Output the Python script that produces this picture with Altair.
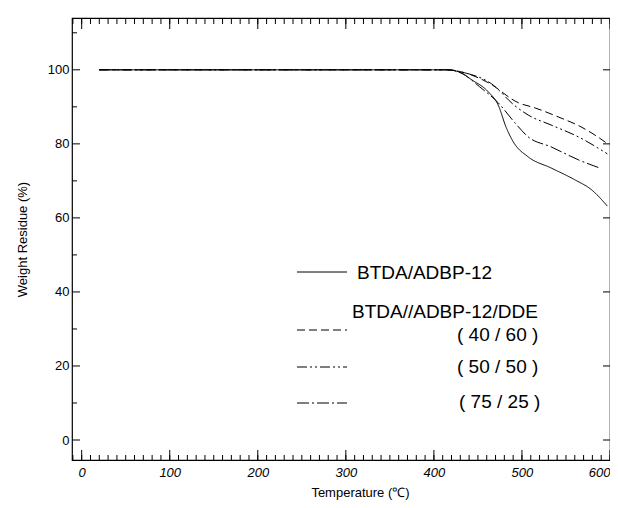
import altair as alt
import pandas as pd

# ---- data ----
series_names = ["BTDA/ADBP-12", "40/60", "50/50", "75/25"]

temp_a = [20, 415, 430, 443, 462, 473, 482, 490, 507, 533, 560, 579, 597]
res_a = [100, 100, 99.3, 97.3, 94.0, 90.5, 84.5, 80.6, 76.5, 73.5, 70.3, 67.6, 63.2]

temp_b = [20, 415, 435, 462, 496, 515, 541, 567, 586, 599]
res_b = [100, 100, 99.2, 96.5, 91.1, 89.7, 87.3, 84.6, 81.9, 79.7]

temp_c = [20, 415, 435, 465, 492, 507, 533, 564, 597]
res_c = [100, 100, 99.2, 96.3, 90.3, 87.8, 85.1, 81.9, 77.3]

temp_d = [20, 415, 432, 452, 473, 492, 507, 533, 564, 588]
res_d = [100, 100, 99.0, 95.4, 91.1, 85.7, 81.9, 79.2, 75.7, 73.5]

x_labels = [0, 100, 200, 300, 400, 500, 600]
y_labels = [0, 20, 40, 60, 80, 100]
x_minor = list(range(-10, 601, 10))
x_major = [0, 100, 200, 300, 400, 500, 600]
y_minor = [10, 30, 50, 70, 90, 110]
y_major = [0, 20, 40, 60, 80, 100]

rows = []
for name, ts, ws in zip(series_names, [temp_a, temp_b, temp_c, temp_d], [res_a, res_b, res_c, res_d]):
    for t, w in zip(ts, ws):
        rows.append({"series": name, "T": t, "W": w})
df = pd.DataFrame(rows)

dashes = [[1, 0], [8, 4], [10, 3, 2, 3, 2, 3], [12, 3, 2, 3]]
dash_scale = alt.Scale(domain=series_names, range=dashes)

FONT = "Liberation Sans"
W, H = 538, 442
xs = alt.Scale(domain=[-11, 600], nice=False, zero=False)
ys = alt.Scale(domain=[-5.4, 114], nice=False, zero=False)

lines = alt.Chart(df).mark_line(color="black", strokeWidth=1, interpolate="monotone", clip=True).encode(
    x=alt.X("T:Q", scale=xs, axis=alt.Axis(
        values=x_labels, domain=False, ticks=False, grid=False, labelPadding=6, labelFlush=True,
        labelFont=FONT, labelFontSize=13, labelFontStyle="italic", labelColor="black",
        title="Temperature (℃)", titleFont=FONT, titleFontSize=13, titleFontWeight="normal",
        titleColor="black", titleX=288, titleY=32, titleBaseline="middle", titleAlign="center")),
    y=alt.Y("W:Q", scale=ys, axis=alt.Axis(
        values=y_labels, domain=False, ticks=False, grid=False, labelPadding=3,
        labelFont=FONT, labelFontSize=13, labelColor="black",
        title="Weight Residue (%)", titleFont=FONT, titleFontSize=13, titleFontWeight="normal",
        titleColor="black", titleX=-50, titleY=221, titleBaseline="middle", titleAlign="center")),
    strokeDash=alt.StrokeDash("series:N", scale=dash_scale, legend=None),
    detail="series:N",
)

def xticks(vals, y1, y2):
    return alt.Chart(pd.DataFrame({"v": vals})).mark_rule(color="black", strokeWidth=1).encode(
        x=alt.X("v:Q", scale=xs), y=alt.value(y1), y2=alt.value(y2))

def yticks(vals, x1, x2):
    return alt.Chart(pd.DataFrame({"v": vals})).mark_rule(color="black", strokeWidth=1).encode(
        y=alt.Y("v:Q", scale=ys), x=alt.value(x1), x2=alt.value(x2))

ticks = [
    xticks(x_minor, H, H - 5), xticks(x_major, H, H - 10),
    xticks(x_minor, 0, 6), xticks(x_major, 0, 11),
    yticks(y_minor, 0, 5), yticks(y_major, 0, 8),
    yticks(y_major, W, W - 7),
]

# legend (drawn as annotation)
leg_lines = []
for name, dash, yy in zip(series_names, dashes, [254, 312, 349, 385]):
    leg_lines.append(
        alt.Chart(pd.DataFrame({"s": [name]})).mark_rule(color="black", strokeWidth=1, strokeDash=dash).encode(
            x=alt.value(225), x2=alt.value(275), y=alt.value(yy)))

leg_texts = []
for txt, xx, yy in [("BTDA/ADBP-12", 285, 255), ("BTDA//ADBP-12/DDE", 280, 294),
                    ("( 40 / 60 )", 385, 317), ("( 50 / 50 )", 385, 349), ("( 75 / 25 )", 387, 384)]:
    leg_texts.append(
        alt.Chart(pd.DataFrame({"t": [txt]})).mark_text(
            font=FONT, fontSize=19, align="left", baseline="middle", color="black").encode(
            text="t:N", x=alt.value(xx), y=alt.value(yy)))

chart = alt.layer(lines, *ticks, *leg_lines, *leg_texts).properties(
    width=W, height=H,
    background="white",
    autosize=alt.AutoSizeParams(type="none"),
    padding={"left": 64, "top": 10, "right": 0, "bottom": 40},
).configure_view(stroke="black", strokeWidth=1.2)

chart.save("out.html", embed_options={"renderer": "svg", "actions": False})
